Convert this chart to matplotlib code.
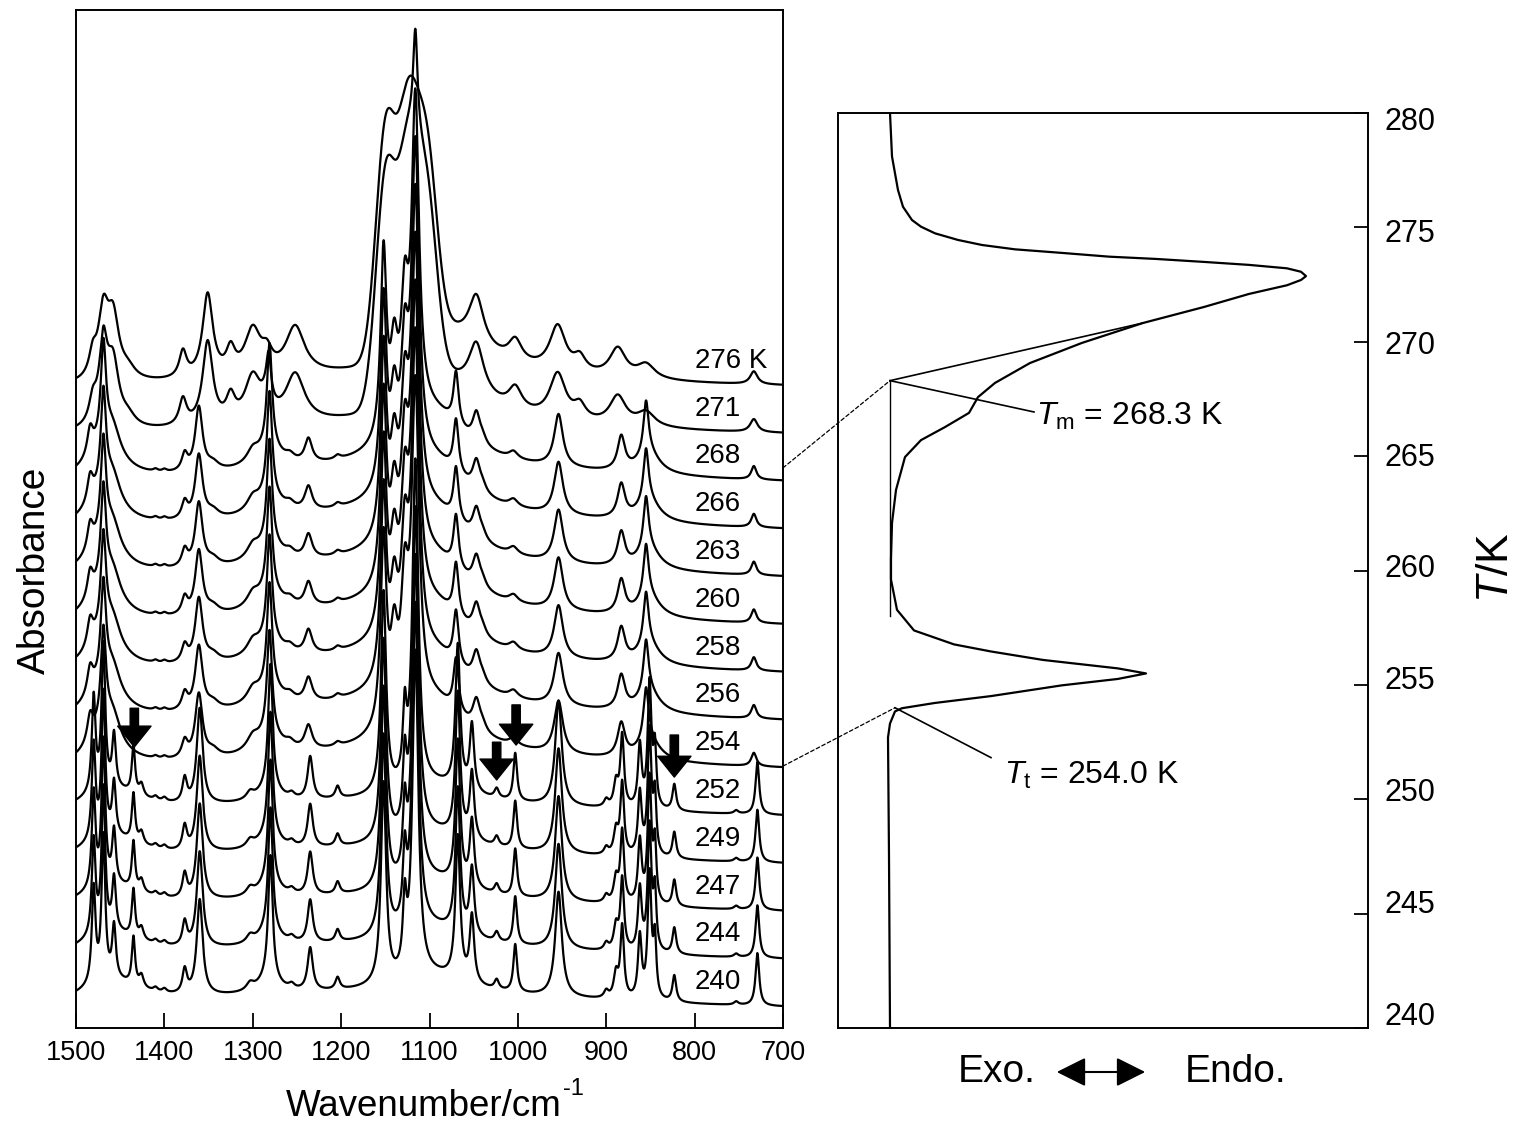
import numpy as np
import matplotlib
matplotlib.use("Agg")
import matplotlib.pyplot as plt
from matplotlib.patches import ConnectionPatch, FancyArrowPatch
from matplotlib.transforms import blended_transform_factory

plt.rcParams["font.family"] = ["Liberation Sans", "DejaVu Sans"]
plt.rcParams["mathtext.fontset"] = "custom"
plt.rcParams["mathtext.rm"] = "Liberation Sans"
plt.rcParams["mathtext.it"] = "Liberation Sans:italic"

# ---------------- IR spectra (stacked, top to bottom) ----------------
temps = [276, 271, 268, 266, 263, 260, 258, 256, 254, 252, 249, 247, 244, 240]
trace_labels = ["276 K"] + [str(t) for t in temps[1:]]
# fraction of each phase in every spectrum: liquid, crystallites in melt, solid I, solid II
frac_liquid = [1.0, 1.0] + [0.0] * 12
frac_seed = [0.0, 1.0] + [0.0] * 12
frac_solid1 = [0.0, 0.0] + [1.0] * 7 + [0.0] * 5
frac_solid2 = [0.0] * 9 + [1.0] * 5

# liquid phase: Lorentzian bands (position cm-1, height, half width)
liq_pos = [1481, 1469, 1458, 1441, 1379, 1351, 1325, 1300, 1284, 1252,
           1047, 1003, 955, 930, 887, 855, 733, 1080, 1100]
liq_amp = [0.45, 1.35, 1.25, 0.20, 0.55, 1.75, 0.50, 0.95, 0.35, 1.00,
           1.00, 0.45, 0.95, 0.30, 0.60, 0.30, 0.27, 1.00, 0.25]
liq_hw = [5, 7, 8, 10, 5, 7, 6, 11, 7, 13,
          10, 9, 11, 8, 11, 12, 5, 55, 300]
# liquid phase: broad C-O-C envelope (position, height, sigma)
liq_g_pos = [1150, 1124, 1102]
liq_g_amp = [4.6, 4.9, 3.4]
liq_g_sig = [11, 12, 11]

# first crystallites growing in the melt (sharp bands only)
seed_pos = [1469, 1282, 1116]
seed_amp = [0.35, 0.80, 2.10]
seed_hw = [3, 3, 3]

# solid phase I (254-268 K)
s1_pos = [1484, 1469, 1468, 1458, 1410, 1400, 1377, 1361, 1345, 1300,
          1281, 1282, 1258, 1237, 1204, 1152, 1140, 1128, 1116, 1070,
          1047, 1040, 1005, 954, 883, 855, 852, 733, 1095, 1100]
s1_amp = [0.55, 2.0, 0.70, 0.50, 0.05, 0.05, 0.35, 1.35, 0.15, 0.25,
          2.2, 0.40, 0.12, 0.50, 0.08, 3.9, 1.6, 2.4, 6.6, 1.1,
          0.6, 0.15, 0.15, 1.1, 0.7, 1.1, 0.45, 0.28, 1.05, 0.40]
s1_hw = [4, 3.5, 22, 10, 3, 3, 4, 5, 8, 8,
         3.5, 20, 6, 5, 4, 4.0, 5, 5, 5, 3.5,
         5, 5, 6, 6, 5, 3.5, 15, 3.5, 45, 280]

# solid phase II (240-252 K)
s2_pos = [1480, 1469, 1457, 1460, 1435, 1426, 1410, 1400, 1377, 1360,
          1303, 1280, 1282, 1256, 1235, 1204, 1152, 1128, 1116, 1068,
          1052, 1024, 1003, 954, 900, 889, 882, 862, 851, 845,
          823, 753, 729, 1095, 1150]
s2_amp = [2.0, 3.0, 1.1, 0.45, 1.0, 0.25, 0.08, 0.08, 0.5, 2.0,
          0.15, 2.6, 0.30, 0.10, 0.9, 0.25, 4.2, 1.4, 6.8, 3.0,
          1.4, 0.2, 1.0, 2.2, 0.15, 0.5, 1.5, 1.3, 2.6, 1.2,
          0.55, 0.07, 1.1, 0.35, 0.40]
s2_hw = [2.5, 2.5, 2.5, 40, 2.2, 3, 3, 3, 3, 4,
         5, 3, 15, 4, 3.5, 3, 3.5, 2.5, 4, 3.2,
         3, 3, 2.5, 4.5, 3, 3, 2.5, 2.5, 2.5, 2,
         2.5, 3, 2.5, 45, 320]

# arrows marking bands that appear in solid phase II
arrow_wn = [1434, 1002, 1024, 823]
arrow_tail = [6.69, 6.76, 5.98, 6.13]
arrow_tip = [5.88, 5.92, 5.19, 5.25]

# ---------------- DSC trace (heat flow a.u., temperature K) ----------------
dsc_T = [280.0, 278.1, 276.63, 275.9, 275.32, 275.03, 274.74, 274.45, 274.23,
         274.04, 273.88, 273.72, 273.62, 273.49, 273.36, 273.21, 273.06, 272.87,
         272.70, 272.47, 272.09, 271.52, 270.82, 269.95, 269.07, 268.20, 267.58,
         266.89, 266.27, 265.70, 264.96, 263.52, 262.08, 260.5, 259.6,
         258.28, 257.38, 256.77, 256.46, 256.09, 255.72, 255.50,
         255.26, 254.98, 254.51, 254.21, 253.98, 253.84, 253.31, 252.7,
         247.5, 240.0]
dsc_flow = [52, 54, 60, 65, 74, 83, 97, 120, 144,
            177, 225, 271, 318, 366, 411, 449, 463, 468,
            463, 449, 411, 366, 305, 244, 192, 157, 140,
            131, 107, 83, 67, 58, 54, 53, 53,
            59, 76, 116, 153, 205, 280, 308,
            280, 224, 153, 97, 64, 57, 52, 50,
            51, 52]
T_m, T_t = 268.3, 254.0
flow_m, flow_t = 52, 57
tangent_end = (305, 270.82)
T_ticks = [240, 245, 250, 255, 260, 265, 270, 275, 280]


def lorentz(x, pos, amp, hw):
    y = np.zeros_like(x)
    for p, a, w in zip(pos, amp, hw):
        y += a / (1.0 + ((x - p) / w) ** 2)
    return y


def gauss(x, pos, amp, sig):
    y = np.zeros_like(x)
    for p, a, s in zip(pos, amp, sig):
        y += a * np.exp(-0.5 * ((x - p) / s) ** 2)
    return y


wn = np.linspace(1500, 700, 8001)
liquid = lorentz(wn, liq_pos, liq_amp, liq_hw) + gauss(wn, liq_g_pos, liq_g_amp, liq_g_sig)
seed = lorentz(wn, seed_pos, seed_amp, seed_hw)
solid1 = lorentz(wn, s1_pos, s1_amp, s1_hw)
solid2 = lorentz(wn, s2_pos, s2_amp, s2_hw)
for comp in (liquid, seed, solid1, solid2):
    comp -= comp[-1]

W, H = 1516, 1129
fig = plt.figure(figsize=(W / 100, H / 100), dpi=100)


def fx(px):
    return px / W


def fy(py):
    return 1 - py / H


ax1 = fig.add_axes([fx(76), fy(1028), (783 - 76) / W, (1028 - 10) / H])
ax2 = fig.add_axes([fx(838), fy(1028), (1368 - 838) / W, (1028 - 113) / H])

n = len(temps)
for j in range(n):
    off = 0.46 + (n - 1 - j)
    y = (off + frac_liquid[j] * liquid + frac_seed[j] * seed
         + frac_solid1[j] * solid1 + frac_solid2[j] * solid2)
    ax1.plot(wn, y, color="black", lw=1.6, solid_joinstyle="round")
    ax1.text(800, off + 0.5, trace_labels[j], fontsize=20, ha="left", va="center")

ax1.set_xlim(1500, 700)
ax1.set_ylim(0, 21.3)
ax1.set_xticks(np.arange(1500, 699, -100))
ax1.set_yticks([])
ax1.tick_params(axis="x", direction="in", length=11, width=1.3, labelsize=19.5, pad=9)
for s in ax1.spines.values():
    s.set_linewidth(1.4)

for xw, yt, yh in zip(arrow_wn, arrow_tail, arrow_tip):
    ax1.annotate("", xy=(xw, yh), xytext=(xw, yt),
                 arrowprops=dict(arrowstyle="simple,head_length=0.75,head_width=1.2,tail_width=0.3",
                                 fc="black", ec="black", shrinkA=0, shrinkB=0,
                                 mutation_scale=20))

# DSC panel
ax2.plot(dsc_flow, dsc_T, color="black", lw=1.6, solid_joinstyle="round")
ax2.plot([flow_m, tangent_end[0]], [T_m, tangent_end[1]], color="black", lw=1.2)
ax2.plot([flow_m, flow_m], [T_m, 258.0], color="black", lw=1.0)
ax2.plot([flow_m, 196], [T_m, 266.93], color="black", lw=1.2)
ax2.plot([flow_t, 153], [T_t, 251.82], color="black", lw=1.2)
ax2.text(198, 266.75, r"$T_{\rm m}$ = 268.3 K", fontsize=23, ha="left", va="center")
ax2.text(166, 251.05, r"$T_{\rm t}$ = 254.0 K", fontsize=23, ha="left", va="center")
ax2.set_xlim(0, 530)
ax2.set_ylim(240, 280)
ax2.set_xticks([])
ax2.yaxis.tick_right()
ax2.set_yticks(T_ticks)
ax2.set_yticklabels([])
ax2.tick_params(axis="y", direction="in", length=10, width=1.3)
for s in ax2.spines.values():
    s.set_linewidth(1.4)
# tick numbers sit slightly inside the ends of the scale
lab_tr = blended_transform_factory(ax2.transAxes, ax2.transData)
for t in T_ticks:
    ty = 240.48 + (t - 240) * (39.13 / 40)
    ax2.text(1.032, ty, str(t), transform=lab_tr, fontsize=22, ha="left", va="center")

# dotted connectors from the spectra to the DSC onsets
for ya, fb, tb in [(11.72, flow_m, T_m), (5.48, flow_t, T_t)]:
    con = ConnectionPatch(xyA=(700, ya), coordsA=ax1.transData,
                          xyB=(fb, tb), coordsB=ax2.transData,
                          color="black", lw=0.9, linestyle=(0, (3, 2)))
    fig.add_artist(con)

# axis titles
fig.text(fx(562), fy(1107), "Wavenumber/cm", fontsize=26.5, ha="right", va="center")
fig.text(fx(563), fy(1089), "-1", fontsize=17, ha="left", va="center")
fig.text(fx(35), fy(570), "Absorbance", rotation=90, fontsize=28, ha="center", va="center")
fig.text(fx(1497), fy(568), r"$T$/K", rotation=90, fontsize=32, ha="center", va="center")
fig.text(fx(997), fy(1072), "Exo.", fontsize=28, ha="center", va="center")
fig.text(fx(1236), fy(1072), "Endo.", fontsize=28, ha="center", va="center")
fig.add_artist(FancyArrowPatch(
    (fx(1054), fy(1072)), (fx(1148), fy(1072)), transform=fig.transFigure,
    arrowstyle="<|-|>,head_length=0.9,head_width=0.45", mutation_scale=20,
    color="black", lw=1.5))

fig.savefig("out.png", dpi=100)
